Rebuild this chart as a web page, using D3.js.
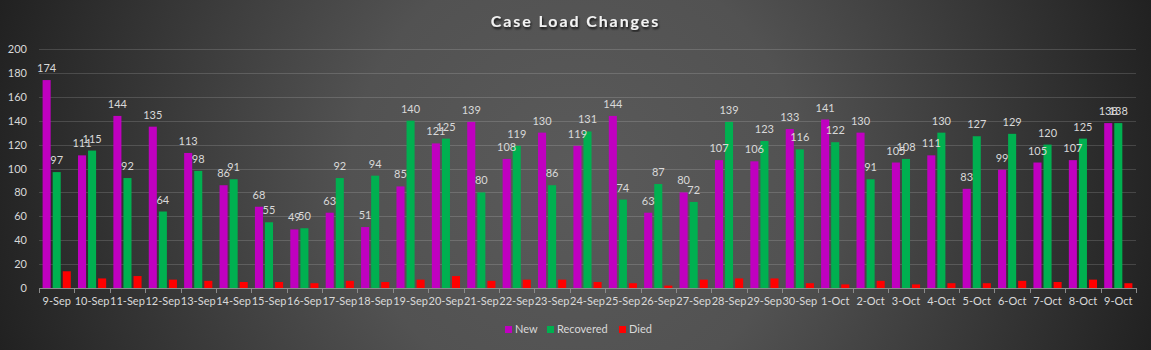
<html>
  <head>
    <title>Case Load Changes</title>
    <script src="https://d3js.org/d3.v7.min.js"></script>
    <style>
      body {
        margin: 0;
        background: #262626;
      }
      text {
        font-family: Lato, "Open Sans", sans-serif;
        fill: #d9d9d9;
      }
      text.title {
        font-size: 16px;
        font-weight: 700;
        fill: #f2f2f2;
        letter-spacing: 1.9px;
      }
      text.lbl {
        font-size: 11px;
        text-anchor: middle;
      }
      line.grid {
        stroke: #ffffff;
        stroke-opacity: 0.15;
        stroke-width: 1px;
      }
    </style>
  </head>
  <body>
    <svg id="chart" width="1151" height="350"></svg>

    <script>
      // data
      const days = [
        "9-Sep", "10-Sep", "11-Sep", "12-Sep", "13-Sep", "14-Sep", "15-Sep",
        "16-Sep", "17-Sep", "18-Sep", "19-Sep", "20-Sep", "21-Sep", "22-Sep",
        "23-Sep", "24-Sep", "25-Sep", "26-Sep", "27-Sep", "28-Sep", "29-Sep",
        "30-Sep", "1-Oct", "2-Oct", "3-Oct", "4-Oct", "5-Oct", "6-Oct",
        "7-Oct", "8-Oct", "9-Oct"
      ];
      const newCases = [
        174, 111, 144, 135, 113, 86, 68, 49, 63, 51, 85, 121, 139, 108, 130,
        119, 144, 63, 80, 107, 106, 133, 141, 130, 105, 111, 83, 99, 105, 107, 138
      ];
      const recovered = [
        97, 115, 92, 64, 98, 91, 55, 50, 92, 94, 140, 125, 80, 119, 86, 131,
        74, 87, 72, 139, 123, 116, 122, 91, 108, 130, 127, 129, 120, 125, 138
      ];
      const died = [
        14, 8, 10, 7, 6, 5, 5, 4, 6, 5, 7, 10, 6, 7, 7, 5, 4, 2, 7, 8, 8, 4,
        3, 6, 3, 4, 4, 6, 5, 7, 4
      ];
      const seriesNames = ["New", "Recovered", "Died"];
      const yTicks = [0, 20, 40, 60, 80, 100, 120, 140, 160, 180, 200];

      const svg = d3.select("#chart");
      const width = +svg.attr("width");
      const height = +svg.attr("height");

      // background: radial gradient like the office chart style
      const defs = svg.append("defs");
      const grad = defs
        .append("radialGradient")
        .attr("id", "bg")
        .attr("gradientUnits", "userSpaceOnUse")
        .attr("cx", width / 2)
        .attr("cy", height / 2)
        .attr("r", 640);
      grad.append("stop").attr("offset", "0%").attr("stop-color", "#5a5a5a");
      grad.append("stop").attr("offset", "35%").attr("stop-color", "#525252");
      grad.append("stop").attr("offset", "100%").attr("stop-color", "#1c1c1c");
      const shadow = defs.append("filter").attr("id", "shadow");
      shadow
        .append("feDropShadow")
        .attr("dx", 1)
        .attr("dy", 2)
        .attr("stdDeviation", 1.2)
        .attr("flood-color", "#000")
        .attr("flood-opacity", 0.8);

      svg
        .append("rect")
        .attr("width", width)
        .attr("height", height)
        .attr("fill", "url(#bg)");

      // scales
      const xScale = d3.scaleBand().domain(days).range([39, 1136]);
      const xInner = d3
        .scaleBand()
        .domain(seriesNames)
        .range([3.6, xScale.bandwidth() - 3.6])
        .paddingInner(0.2);
      const yScale = d3.scaleLinear().domain([0, 200]).range([288, 49]);
      const colorScale = d3
        .scaleOrdinal()
        .domain(seriesNames)
        .range(["#c000c0", "#00b050", "#ff0000"]);

      // gridlines + y labels
      svg
        .append("g")
        .selectAll("line")
        .data(yTicks.slice(1))
        .join("line")
        .attr("class", "grid")
        .attr("x1", 39)
        .attr("x2", 1136)
        .attr("y1", (d) => Math.round(yScale(d)) + 0.5)
        .attr("y2", (d) => Math.round(yScale(d)) + 0.5);
      svg
        .append("g")
        .selectAll("text")
        .data(yTicks)
        .join("text")
        .attr("x", 27)
        .attr("y", (d) => yScale(d) + 4)
        .attr("text-anchor", "end")
        .style("font-size", "11px")
        .text((d) => d);

      // bars
      const rows = days.map((d, i) => ({
        day: d,
        values: [
          { s: "New", v: newCases[i] },
          { s: "Recovered", v: recovered[i] },
          { s: "Died", v: died[i] },
        ],
      }));

      const groups = svg
        .append("g")
        .selectAll("g")
        .data(rows)
        .join("g")
        .attr("transform", (d) => `translate(${xScale(d.day)},0)`);

      groups
        .selectAll("rect")
        .data((d) => d.values)
        .join("rect")
        .attr("x", (d) => xInner(d.s))
        .attr("width", xInner.bandwidth())
        .attr("y", (d) => yScale(d.v))
        .attr("height", (d) => yScale(0) - yScale(d.v))
        .attr("fill", (d) => colorScale(d.s));

      // data labels (only New and Recovered, overlapping like the original)
      groups
        .selectAll("text")
        .data((d) => d.values.filter((v) => v.s != "Died"))
        .join("text")
        .attr("class", "lbl")
        .attr("x", (d) => xInner(d.s) + xInner.bandwidth() / 2)
        .attr("y", (d) => yScale(d.v) - 8)
        .text((d) => d.v);

      // x axis
      const xAxis = svg.append("g").attr("transform", "translate(0,288)");
      xAxis
        .append("line")
        .attr("x1", 39)
        .attr("x2", 1136)
        .attr("y1", 0.5)
        .attr("y2", 0.5)
        .attr("stroke", "#8c8c8c");
      xAxis
        .selectAll("line.tick")
        .data(days.concat(["end"]))
        .join("line")
        .attr("class", "tick")
        .attr("x1", (d, i) => Math.round(39 + i * xScale.step()) + 0.5)
        .attr("x2", (d, i) => Math.round(39 + i * xScale.step()) + 0.5)
        .attr("y1", 0)
        .attr("y2", 5)
        .attr("stroke", "#8c8c8c");
      xAxis
        .selectAll("text")
        .data(days)
        .join("text")
        .attr("x", (d) => xScale(d) + xScale.bandwidth() / 2)
        .attr("y", 17)
        .attr("text-anchor", "middle")
        .style("font-size", "11px")
        .text((d) => d);

      // title
      svg
        .append("text")
        .attr("class", "title")
        .attr("x", width / 2)
        .attr("y", 27)
        .attr("text-anchor", "middle")
        .attr("filter", "url(#shadow)")
        .text("Case Load Changes");

      // legend
      const legendX = [505, 547, 619];
      const legend = svg
        .append("g")
        .selectAll("g")
        .data(seriesNames)
        .join("g")
        .attr("transform", (d, i) => `translate(${legendX[i]},326)`);
      legend
        .append("rect")
        .attr("width", 7)
        .attr("height", 7)
        .attr("fill", (d) => colorScale(d));
      legend
        .append("text")
        .attr("x", 10)
        .attr("y", 7)
        .style("font-size", "11px")
        .text((d) => d);
    </script>
  </body>
</html>
